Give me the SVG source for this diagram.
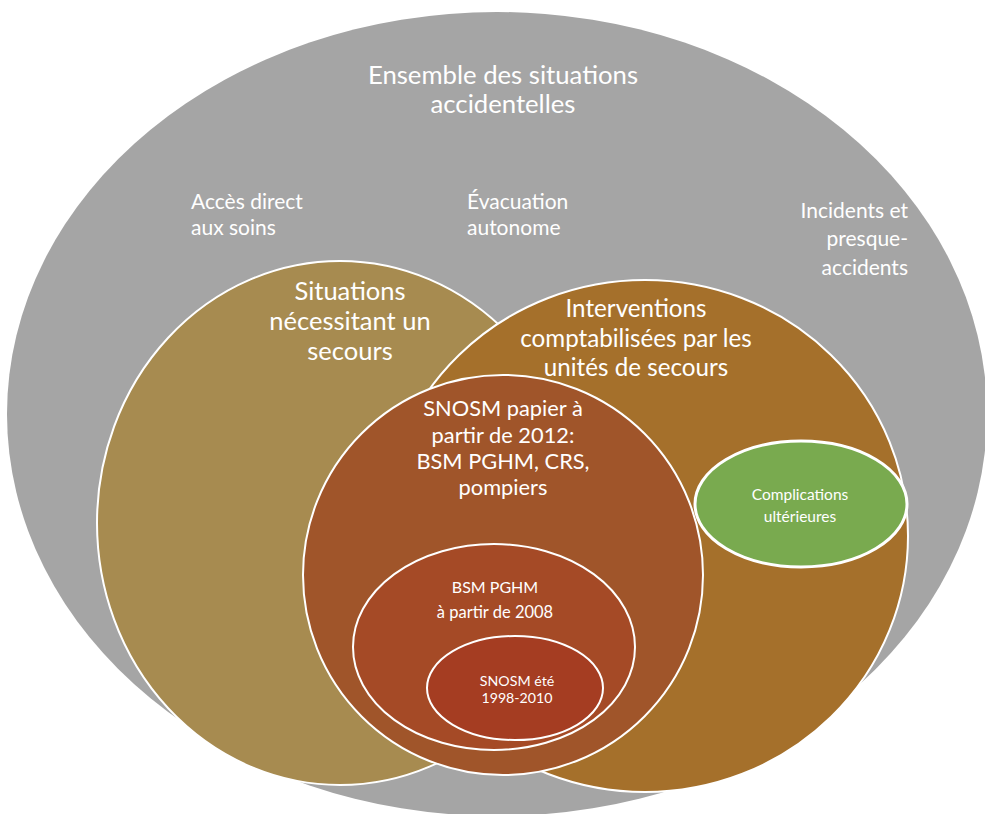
<svg xmlns="http://www.w3.org/2000/svg" width="985" height="814" viewBox="0 0 985 814">
<style>
text{font-family:Lato,"Open Sans","Liberation Sans",sans-serif;fill:#fff;text-anchor:middle}
.st{text-anchor:start}
.en{text-anchor:end}
.s{stroke:#fff;stroke-width:2}
.mid{font-size:21px}
</style>
<rect width="985" height="814" fill="#fff"/>
<g id="ensemble">
<ellipse cx="497" cy="414" rx="490" ry="402" fill="#a5a5a5"/>
<text x="503" y="84" font-size="25.7">Ensemble des situations</text>
<text x="503" y="113" font-size="25.7">accidentelles</text>
</g>
<g id="acces"><text class="st mid" x="191" y="209">Accès direct</text><text class="st mid" x="191" y="235">aux soins</text></g>
<g id="evacuation"><text class="st mid" x="467" y="209">Évacuation</text><text class="st mid" x="467" y="235">autonome</text></g>
<g id="incidents"><text class="en mid" x="908" y="218">Incidents et</text><text class="en mid" x="908" y="246">presque-</text><text class="en mid" x="908" y="275">accidents</text></g>
<g id="situations">
<ellipse class="s" cx="340" cy="523" rx="243" ry="262" fill="#a78b50"/>
</g>
<g id="interventions">
<ellipse class="s" cx="645" cy="536" rx="263" ry="256" fill="#a5702b"/>
<text x="636" y="317" font-size="24.2">Interventions</text>
<text x="636" y="347" font-size="24.2">comptabilisées par les</text>
<text x="636" y="376" font-size="24.2">unités de secours</text>
</g>
<g id="situations-label">
<text x="350" y="300" font-size="25.5">Situations</text>
<text x="350" y="330" font-size="25.5">nécessitant un</text>
<text x="350" y="360" font-size="25.5">secours</text>
</g>
<g id="snosm-papier">
<circle class="s" cx="503" cy="575" r="200" fill="#a0552a"/>
<text x="503" y="416" font-size="21.8">SNOSM papier à</text>
<text x="503" y="443" font-size="21.8">partir de 2012:</text>
<text x="503" y="469" font-size="21.8">BSM PGHM, CRS,</text>
<text x="503" y="495" font-size="21.8">pompiers</text>
</g>
<g id="bsm">
<ellipse class="s" cx="494" cy="647" rx="141" ry="103" fill="#a54a26"/>
<text x="495" y="593" font-size="16">BSM PGHM</text>
<text x="495" y="618" font-size="16.5">à partir de 2008</text>
</g>
<g id="snosm-ete">
<ellipse class="s" cx="515" cy="688" rx="88" ry="52" fill="#a53d22"/>
<text x="517" y="686" font-size="14.2">SNOSM été</text>
<text x="517" y="703" font-size="14.2">1998-2010</text>
</g>
<g id="complications">
<ellipse cx="801" cy="504" rx="106" ry="63" fill="#79aa4f" stroke="#fff" stroke-width="3"/>
<text x="800" y="500" font-size="15.5">Complications</text>
<text x="800" y="522" font-size="15.5">ultérieures</text>
</g>
<g id="connectors"/>
</svg>
